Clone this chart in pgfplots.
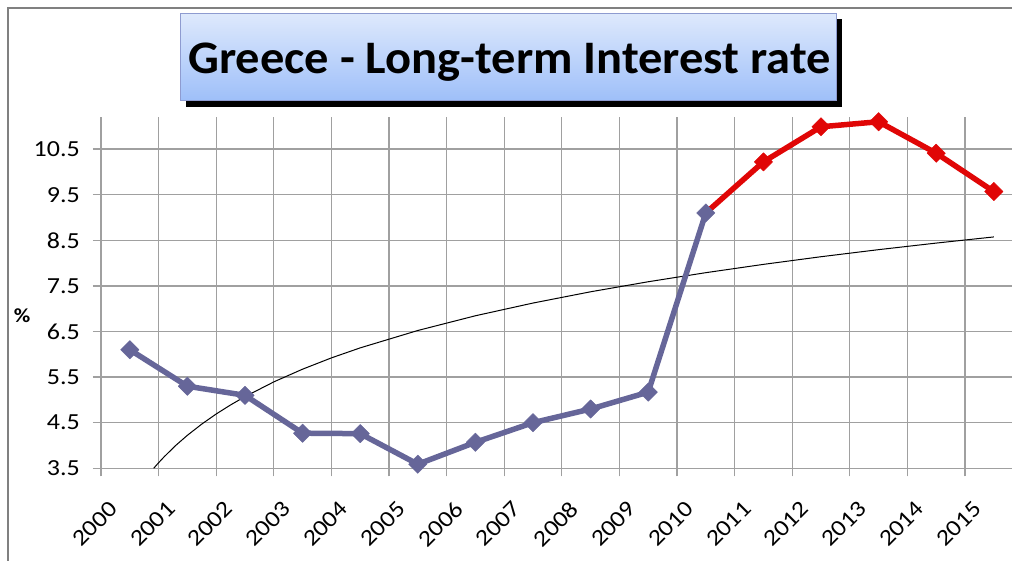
\documentclass[border=0pt]{standalone}
\usepackage{fontspec}
\setmainfont{Carlito}[FakeStretch=1.13]
\newfontfamily\titlefont{Carlito}[FakeStretch=1.04]
\usepackage{pgfplots}
\pgfplotsset{compat=1.18}
\definecolor{serblue}{HTML}{666699}
\definecolor{serred}{HTML}{E00606}
\definecolor{gridc}{HTML}{A0A0A0}
\definecolor{ttop}{HTML}{DEE9FC}
\definecolor{tbot}{HTML}{9EBFF9}
\definecolor{tborder}{HTML}{8E9BD0}
\begin{document}
\begin{tikzpicture}[x=1pt,y=1pt]
\useasboundingbox (0,0) rectangle (1012,561);
\fill[white] (0,0) rectangle (1012,561);
\draw[black!50, line width=1.3pt] (8,0) -- (8,553) -- (1012,553);
% title
\fill[black] (186,454.3) rectangle (842,542);
\shade[top color=ttop, bottom color=tbot] (180.7,460.3) rectangle (836,547.7);
\draw[tborder, line width=1pt] (180.7,460.3) rectangle (836,547.7);
\node[anchor=base, inner sep=0pt, font=\fontsize{46.6}{50}\selectfont\titlefont\bfseries] at (509.5,487.7) {Greece - Long-term Interest rate};
\node[inner sep=0pt, font=\fontsize{20}{24}\selectfont\bfseries] at (22,245) {\%};
\begin{axis}[
  at={(101pt,92.7pt)}, anchor=south west,
  scale only axis, width=911pt, height=351.6pt,
  xmin=-0.5, xmax=15.316, ymin=3.5, ymax=11.211,
  axis x line*=bottom, axis y line*=left,
  axis line style={gridc, line width=1.3pt, -},
  xtick={-0.5,0.5,...,14.5}, xticklabels={},
  ytick={3.5,4.5,...,10.5},
  yticklabels={3.5,4.5,5.5,6.5,7.5,8.5,9.5,10.5},
  grid=major, major grid style={gridc, line width=1.3pt},
  tick align=outside, major tick length=8pt,
  tick style={gridc, line width=1.3pt},
  extra x ticks={0,1,2,3,4,5,6,7,8,9,10,11,12,13,14,15},
  extra x tick labels={2000,2001,2002,2003,2004,2005,2006,2007,2008,2009,2010,2011,2012,2013,2014,2015},
  extra x tick style={grid=none, major tick length=0pt},
  xticklabel style={font=\fontsize{23}{26}\selectfont, inner sep=0pt, anchor=east, xshift=-16pt, yshift=-37pt, rotate=45},
  yticklabel style={font=\fontsize{23}{26}\selectfont, inner sep=0pt, anchor=east, xshift=-13pt},
  clip mode=individual,
]
\addplot[black, line width=1pt, no marks] coordinates {
(0.415,3.500) (0.5,3.622) (0.6,3.757) (0.8,4.004) (1,4.224) (1.25,4.470) (1.5,4.691) (1.75,4.890)
(2,5.072) (2.5,5.395) (3,5.674) (3.5,5.921) (4,6.141) (5,6.522) (6,6.845) (7,7.124) (8,7.371)
(9,7.591) (10,7.790) (11,7.972) (12,8.140) (13,8.295) (14,8.439) (15,8.574)};
\addplot[serred, line width=5.5pt, line join=round, mark=square*, mark size=6.5pt,
  mark options={rotate=45, line width=0.4pt, fill=serred, draw=serred}, mark indices={2,3,4,5,6}]
  coordinates {(10,9.10) (11,10.22) (12,10.99) (13,11.10) (14,10.41) (15,9.57)};
\addplot[serblue, line width=5.5pt, line join=round, mark=square*, mark size=6.5pt,
  mark options={rotate=45, line width=0.4pt, fill=serblue, draw=serblue}]
  coordinates {(0,6.10) (1,5.30) (2,5.10) (3,4.27) (4,4.26) (5,3.59) (6,4.07) (7,4.50) (8,4.80) (9,5.17) (10,9.10)};
\end{axis}
\end{tikzpicture}
\end{document}
